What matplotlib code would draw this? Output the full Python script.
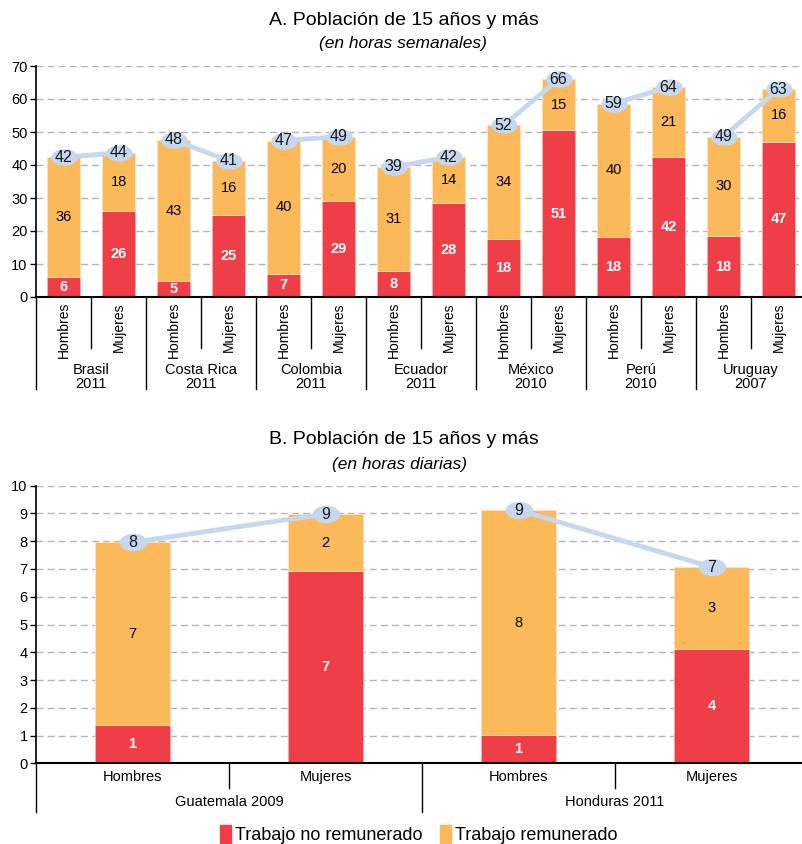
import numpy as np
import matplotlib
matplotlib.use('Agg')
import matplotlib.pyplot as plt
from matplotlib.patches import Patch
from matplotlib.path import Path

plt.rcParams['font.family'] = ['Liberation Sans', 'DejaVu Sans']

# Datos panel A (horas semanales)
paises_a = ['Brasil\n2011', 'Costa Rica\n2011', 'Colombia\n2011', 'Ecuador\n2011',
            'México\n2010', 'Perú\n2010', 'Uruguay\n2007']
sexos = ['Hombres', 'Mujeres']
no_rem_a = [6.05, 26.1, 4.7, 25.0, 7.0, 29.0, 8.0, 28.4, 17.7, 50.6, 18.2, 42.3, 18.4, 47.1]
rem_a = [36.25, 17.6, 42.9, 16.3, 40.4, 19.6, 31.4, 14.0, 34.3, 15.4, 40.4, 21.3, 30.2, 15.9]

# Datos panel B (horas diarias)
paises_b = ['Guatemala 2009', 'Honduras 2011']
no_rem_b = [1.39, 6.91, 1.02, 4.12]
rem_b = [6.57, 2.07, 8.10, 2.95]

ROJO = '#ef3e48'
NARANJA = '#fbb95a'
AZUL = '#c5d8ef'

t = np.linspace(0, 2 * np.pi, 60)
elipse = Path(np.c_[np.cos(t), 0.6 * np.sin(t)])

fig = plt.figure(figsize=(8.02, 8.44), dpi=100)


def panel(ax, no_rem, rem, ymax, ystep, ancho, etiquetas_pais, rotar, ms):
    x = np.arange(len(no_rem))
    no_rem = np.array(no_rem)
    rem = np.array(rem)
    total = no_rem + rem
    ax.bar(x, no_rem, ancho, color=ROJO, edgecolor='#f7b0a8', lw=0.6, zorder=2)
    ax.bar(x, rem, ancho, bottom=no_rem, color=NARANJA, edgecolor='#fde3c4', lw=0.6, zorder=2)
    for i in range(len(x)):
        ax.text(x[i], no_rem[i] / 2, f'{no_rem[i]:.0f}', ha='center', va='center',
                color='white', fontweight='bold', fontsize=10.5, zorder=3)
        ax.text(x[i], no_rem[i] + rem[i] / 2, f'{rem[i]:.0f}', ha='center', va='center',
                color='black', fontsize=10.5, zorder=3)
    # linea de totales por pais
    for g in range(0, len(x), 2):
        ax.plot(x[g:g + 2], total[g:g + 2], color=AZUL, lw=3.5, marker=elipse, ms=ms,
                mfc=AZUL, mec=AZUL, zorder=4, clip_on=False)
        for i in (g, g + 1):
            ax.text(x[i], total[i], f'{total[i]:.0f}', ha='center', va='center',
                    fontsize=11.5, color='#1a1a1a', zorder=5)

    ax.set_xlim(-0.5, len(x) - 0.5)
    ax.set_ylim(0, ymax)
    ax.set_yticks(np.arange(0, ymax + 1, ystep))
    ax.tick_params(axis='y', labelsize=10.5, length=4, width=1, pad=2)
    ax.set_xticks([])
    for yv in np.arange(ystep, ymax + 1, ystep):
        ax.axhline(yv, color='#b5b5b5', lw=1, ls=(0, (5, 3)), zorder=1)
    ax.spines['top'].set_visible(False)
    ax.spines['right'].set_visible(False)
    ax.spines['left'].set_linewidth(1.2)
    ax.spines['bottom'].set_linewidth(1.5)

    tr = ax.get_xaxis_transform()
    h = ax.get_position().height * fig.get_figheight() * 100
    def ay(px):
        return -px / h
    if rotar:
        for i in x:
            ax.text(i, ay(5), sexos[i % 2], rotation=90, ha='center', va='top',
                    fontsize=10, transform=tr)
        for g in range(len(etiquetas_pais)):
            ax.plot([2 * g + 0.5] * 2, [0, ay(51)], color='black', lw=1, transform=tr, clip_on=False)
            ax.text(2 * g + 0.5, ay(80), etiquetas_pais[g], ha='center', va='center',
                    fontsize=10.5, linespacing=0.95, transform=tr)
        for g in range(len(etiquetas_pais) + 1):
            ax.plot([2 * g - 0.5] * 2, [0, ay(92)], color='black', lw=1, transform=tr, clip_on=False)
    else:
        for i in x:
            ax.text(i, ay(14), sexos[i % 2], ha='center', va='center', fontsize=10.5, transform=tr)
        for g in range(len(etiquetas_pais)):
            ax.plot([2 * g + 0.5] * 2, [0, ay(25)], color='black', lw=1, transform=tr, clip_on=False)
            ax.text(2 * g + 0.5, ay(39), etiquetas_pais[g], ha='center', va='center',
                    fontsize=10.5, transform=tr)
        for g in range(len(etiquetas_pais) + 1):
            ax.plot([2 * g - 0.5] * 2, [0, ay(49)], color='black', lw=1, transform=tr, clip_on=False)


ax1 = fig.add_axes([36 / 802, (844 - 297) / 844, 770 / 802, 231 / 844])
panel(ax1, no_rem_a, rem_a, 70, 10, 0.59, paises_a, True, 18)

ax2 = fig.add_axes([36 / 802, (844 - 763.3) / 844, 772 / 802, 277.6 / 844])
panel(ax2, no_rem_b, rem_b, 10, 1, 0.39, paises_b, False, 19)

# Titulos
fig.text(0.503, 0.976, 'A. Población de 15 años y más', ha='center', va='center', fontsize=14)
fig.text(0.503, 0.948, '(en horas semanales)', ha='center', va='center', fontsize=12.5, style='italic')
fig.text(0.503, 0.479, 'B. Población de 15 años y más', ha='center', va='center', fontsize=14)
fig.text(0.498, 0.450, '(en horas diarias)', ha='center', va='center', fontsize=12.5, style='italic')

# Leyenda
handles = [Patch(color=ROJO, label='Trabajo no remunerado'),
           Patch(color=NARANJA, label='Trabajo remunerado')]
fig.legend(handles=handles, loc='center', bbox_to_anchor=(0.522, 0.011), ncol=2,
           frameon=False, fontsize=13, handlelength=0.6, handleheight=1.1,
           handletextpad=0.2, columnspacing=1.0, borderpad=0)

fig.savefig('out.png', dpi=100)
